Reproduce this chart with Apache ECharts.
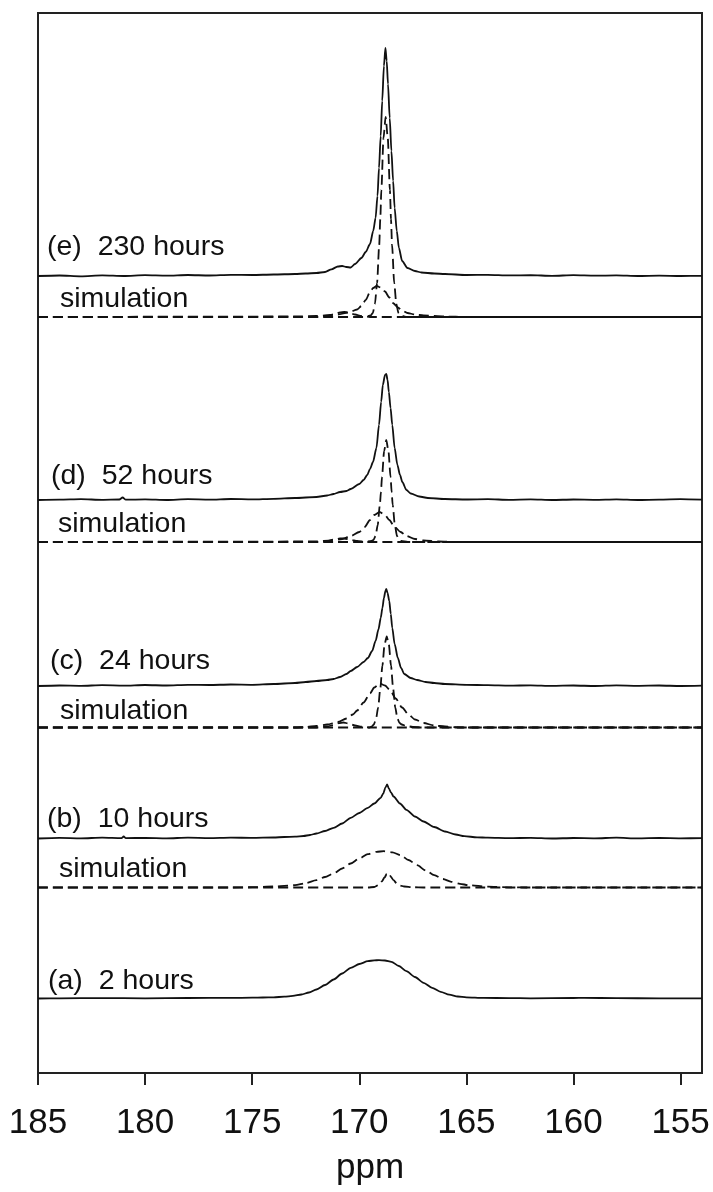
<!DOCTYPE html>
<html>
<head>
<meta charset="utf-8">
<script src="https://cdn.jsdelivr.net/npm/echarts@6/dist/echarts.min.js"></script>
<style>
  html, body { margin: 0; padding: 0; background: #fff; }
  #chart { width: 713px; height: 1192px; }
</style>
</head>
<body>
<div id="chart"></div>
<script>
// x axis ticks (ppm)
const ticks = [185, 180, 175, 170, 165, 160, 155]

// spectra, [ppm, intensity above own baseline]
const specA = [[185,0],[184,0.2],[182,0.4],[180,0.2],[178,0.5],[176,0.6],[175,0.8],[174.5,1],[174,1.2],[173.5,1.8],[173.1,2.6],[172.7,4],[172.35,6],[172,9],[171.6,13.5],[171.2,19],[170.8,25],[170.4,30.7],[170,34.5],[169.6,37.3],[169.3,38.2],[169.08,38.3],[168.8,38],[168.5,36.7],[168.15,32.5],[167.8,27.3],[167.4,21.5],[167,15.7],[166.6,10.7],[166.2,6.7],[165.8,3.8],[165.4,2],[165,1.2],[164.2,0.6],[163,0.4],[162,0.2],[160,0.5],[159.5,0.7],[158,0.3],[156,0.2],[154,0.1]]

const specB = [[185,0],[184,0.6],[183,0.2],[182,0.8],[181.1,0.3],[181,2],[180.9,0.4],[180,0.6],[179,0.2],[178,0.8],[177,0.4],[176,0.9],[175,0.6],[174,1],[173.5,1.5],[173,1.8],[172.6,2.5],[172.3,3.5],[172,5],[171.6,7.5],[171.2,10.7],[170.8,15],[170.4,20.7],[170,25.5],[169.6,30.7],[169.3,35],[169,40.7],[168.88,45],[168.78,51],[168.7,54],[168.62,50],[168.52,46],[168.4,42],[168.1,35],[167.8,28.7],[167.4,22],[167,17],[166.5,11.5],[166,7],[165.5,4],[165.1,2.3],[164.5,1.2],[164,0.8],[163,0.3],[162,0.7],[161,0],[160,0.5],[159,0.2],[158,0.8],[157,0.1],[156,0.5],[155,0.2],[154,0.4]]
const simB1 = [[185,0],[176,0],[175,0.3],[174,1],[173,2.3],[172.5,4.3],[172,7.3],[171.6,10.5],[171.2,14],[170.8,19],[170.4,24],[170,29],[169.6,33.3],[169.2,35.7],[168.85,36.3],[168.45,35.2],[168.07,32.3],[167.7,27.5],[167.3,22.3],[166.9,17],[166.5,12.3],[166.1,8.5],[165.7,5.7],[165.3,3.7],[164.9,2.3],[164,0.8],[163,0.2],[162,0],[154,0]]
const simB2 = [[185,0],[169.6,0],[169.3,0.5],[169.1,2.5],[168.95,6],[168.82,10],[168.72,13.5],[168.66,14.7],[168.6,13.5],[168.52,10.5],[168.4,7.3],[168.25,4],[168.1,2],[167.9,1],[167.5,0.3],[167,0],[154,0]]

const specC = [[185,0],[184,0.5],[183,0.2],[182,0.8],[181,0.4],[180,1],[179,0.5],[178,1.1],[177,1],[176,1.5],[175,1.2],[174,2],[173,3],[172.5,4],[172,5],[171.5,6],[171.2,7],[170.9,9],[170.6,12],[170.4,15],[170.1,19],[169.8,24],[169.6,28],[169.4,35],[169.24,45],[169.1,57],[169,68],[168.92,78],[168.85,88],[168.78,95],[168.74,97],[168.68,93],[168.6,85],[168.53,72],[168.46,58],[168.35,42],[168.2,28],[168.05,18],[167.9,12],[167.6,8],[167.3,6],[166.9,4],[166.5,3],[166,2],[165,1.2],[164,0.8],[163,0.3],[162,0.7],[161,0.1],[160,0.5],[159,0],[158,0.6],[157,0.2],[156,0.5],[155,0],[154,0.3]]
const simC1 = [[185,0],[169.52,0],[169.42,1],[169.32,3],[169.22,8.5],[169.12,20],[169.02,39],[168.92,62],[168.82,83],[168.72,91],[168.62,83],[168.52,62],[168.42,39],[168.32,20],[168.22,9],[168.12,4.5],[168.02,3],[167.8,1.5],[167.5,0.5],[167,0],[154,0]]
const simC2 = [[185,0],[173,0],[172.5,0.5],[172,1.5],[171.5,3],[171,5.5],[170.6,9],[170.3,13],[170.1,17],[169.8,25],[169.5,34],[169.3,40],[169.05,44],[168.8,42],[168.55,37],[168.3,29],[168,20],[167.7,13],[167.4,8],[167,4.5],[166.5,2],[166,1],[165.5,0.3],[165,0],[154,0]]
const simC3 = [[185,0],[172,0],[171.5,1],[171.2,2.5],[170.95,4.3],[170.75,5],[170.5,4],[170.2,2],[169.9,0.8],[169.5,0],[154,0]]

const specD = [[185,0],[184,0.3],[183,0.8],[182,0.2],[181.2,0.5],[181.05,2.5],[180.9,0.3],[180,0.6],[179,0],[178,0.8],[177,0.4],[176,1],[175,0.6],[174,1.2],[173,2],[172,3],[171.5,4.5],[171.2,6],[170.9,8],[170.6,9],[170.4,11],[170,16],[169.8,20],[169.63,25],[169.5,31],[169.36,38],[169.2,52],[169.08,75],[168.98,98],[168.9,115],[168.8,125],[168.74,126],[168.68,120],[168.62,108],[168.54,92],[168.46,75],[168.35,52],[168.22,35],[168.1,25],[167.99,18],[167.8,10],[167.6,6.5],[167.2,3.5],[166.8,2],[166,1],[165,0.5],[164,0.8],[163,0.2],[162,0.6],[161,0],[160,0.5],[159,0.2],[158,0.7],[157,0],[156,0.4],[155,0.8],[154,0.3]]
const simD1 = [[185,0],[169.74,0],[169.44,1],[169.34,2],[169.24,6],[169.14,17],[169.04,37],[168.99,50],[168.94,65],[168.84,91],[168.74,102],[168.64,91],[168.54,65],[168.49,50],[168.44,37],[168.34,17],[168.24,6],[168.14,2],[168.04,1],[167.74,0],[154,0]]
const simD2 = [[185,0],[172,0.5],[171.3,1.5],[170.8,3],[170.4,6],[170,10],[169.75,15],[169.5,22],[169.3,27],[169.05,30],[168.8,27],[168.6,22],[168.35,15],[168.07,10],[167.8,6],[167.4,3],[167,1.5],[166.3,0.5],[165.5,0],[154,0]]
const simD3 = [[185,0],[172,0],[171.5,1],[171.2,2.3],[170.9,3.5],[170.7,3.5],[170.4,2.2],[170.1,1],[169.7,0],[154,0]]

const specE = [[185,0],[184,0.5],[183,-0.3],[182,0.6],[181,0],[180,0.8],[179,0.3],[178,1],[177,0.5],[176,1.2],[175,1],[174,1.5],[173,2],[172.5,2.5],[172,3],[171.6,4],[171.3,6.7],[171,9.5],[170.8,10],[170.6,9],[170.4,8.5],[170.2,12],[169.9,18],[169.7,24],[169.5,32],[169.35,45],[169.24,58],[169.15,80],[169.08,108],[169,140],[168.93,175],[168.85,210],[168.78,228],[168.72,215],[168.66,192],[168.58,158],[168.5,125],[168.42,95],[168.35,68],[168.25,45],[168.15,28],[168,15],[167.75,8],[167.4,5],[167.1,3.5],[166.5,2.5],[166,2],[165,1],[164,1.2],[163,0.6],[162,0.8],[161,0.2],[160,0.8],[159,0.3],[158,0.6],[157,0],[156,0.4],[155,0],[154,0.2]]
const simE1 = [[185,0],[169.77,0],[169.47,1.5],[169.37,4],[169.27,13],[169.17,34],[169.07,72],[169.02,98],[168.97,127],[168.87,179],[168.77,200],[168.67,179],[168.57,127],[168.52,98],[168.47,72],[168.37,34],[168.27,13],[168.17,4],[168.07,1.5],[167.77,0],[154,0]]
const simE2 = [[185,0],[173,0.5],[172,1],[171,2.5],[170.5,4.5],[170.1,7.5],[169.9,11],[169.7,17],[169.5,25],[169.35,29],[169.19,31],[169,29.5],[168.8,25.5],[168.6,19.5],[168.4,13.5],[168.2,9.5],[168,6.5],[167.75,4],[167.4,2.5],[167,1.5],[166,0.5],[165,0],[154,0]]
const simE3 = [[185,0],[172,0],[171.5,1],[171.2,2.5],[170.9,4.5],[170.7,5],[170.5,4.5],[170.2,2.5],[169.9,1],[169.5,0],[154,0]]

const labelTexts = ['(e)  230 hours', 'simulation', '(d)  52 hours', 'simulation',
  '(c)  24 hours', 'simulation', '(b)  10 hours', 'simulation', '(a)  2 hours']

// layout: baselines in y-axis units (1 unit = 1px from bottom of box)
const traces = [
  { d: specA, base: 74.5 },
  { d: simB1, base: 185.5, dash: true }, { d: simB2, base: 185.5, dash: true },
  { d: specB, base: 234.5 },
  { d: simC1, base: 345.5, dash: true }, { d: simC2, base: 345.5, dash: true }, { d: simC3, base: 345.5, dash: true },
  { d: specC, base: 387 },
  { d: simD1, base: 531, dash: true }, { d: simD2, base: 531, dash: true }, { d: simD3, base: 531, dash: true },
  { d: specD, base: 573 },
  { d: simE1, base: 756, dash: true }, { d: simE2, base: 756, dash: true }, { d: simE3, base: 756, dash: true },
  { d: specE, base: 797 }
]
const labelPos = [[47, 247], [60, 299], [51, 476], [58, 524], [50, 661], [60, 711], [47, 819], [59, 869], [48, 981]]

const font = '"Liberation Sans", Arial, Helvetica, sans-serif'
const ink = '#111'

const chart = echarts.init(document.getElementById('chart'))

chart.setOption({
  animation: false,
  backgroundColor: '#fff',
  grid: {
    left: 38, right: 11, top: 13, bottom: 119,
    show: true, borderColor: '#222', borderWidth: 2
  },
  xAxis: {
    type: 'value', min: 154, max: 185, inverse: true,
    axisLine: { show: false },
    splitLine: { show: false },
    axisTick: { show: true, customValues: ticks, length: 12, lineStyle: { color: '#222', width: 2 } },
    axisLabel: { customValues: ticks, fontSize: 35, color: ink, margin: 33, fontFamily: font },
    name: 'ppm', nameLocation: 'middle', nameGap: 78,
    nameTextStyle: { fontSize: 35, color: ink, fontFamily: font }
  },
  yAxis: { type: 'value', min: 0, max: 1060, show: false },
  series: traces.map(t => ({
    type: 'line',
    data: t.d.map(p => [p[0], p[1] + t.base]),
    showSymbol: false,
    smooth: 0.25,
    smoothMonotone: 'x',
    silent: true,
    lineStyle: { color: ink, width: 1.8, type: t.dash ? [10, 5] : 'solid' }
  })),
  graphic: labelTexts.map((s, i) => ({
    type: 'text',
    x: labelPos[i][0], y: labelPos[i][1],
    style: { text: s, font: '28.5px ' + font, fill: ink, verticalAlign: 'middle' }
  }))
})
</script>
</body>
</html>
